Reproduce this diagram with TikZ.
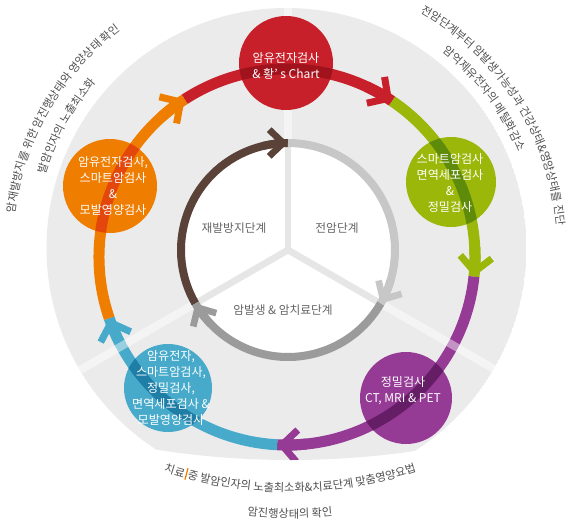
\documentclass[tikz,border=0pt]{standalone}
\usepackage{fontspec}
\setmainfont{Noto Sans CJK KR}
\usetikzlibrary{arrows.meta, decorations.text}

\definecolor{discgray}{HTML}{EBEBEB}
\definecolor{txtgray}{HTML}{4F4F4F}
\definecolor{lblgray}{HTML}{646464}
\definecolor{cRed}{HTML}{C8202B}
\definecolor{cRedD}{HTML}{A0131D}
\definecolor{cGreen}{HTML}{9BB70A}
\definecolor{cGreenD}{HTML}{5F8B0A}
\definecolor{cPurple}{HTML}{953A95}
\definecolor{cPurpleD}{HTML}{651E66}
\definecolor{cBlue}{HTML}{47AACA}
\definecolor{cBlueD}{HTML}{1F7EA6}
\definecolor{cOrange}{HTML}{EF7D00}
\definecolor{cOrangeD}{HTML}{E4470C}
\definecolor{cBrown}{HTML}{5A4238}
\definecolor{cLight}{HTML}{C7C7C7}
\definecolor{cMid}{HTML}{9B9B9B}
\definecolor{yline}{HTML}{E6E6E6}

\newcommand\outertext{\color{txtgray}\fontsize{9.6}{10}\selectfont}
\newcommand\cursorbar{\kern1pt\textcolor{cOrange}{\rule[-1.2pt]{1.1pt}{10pt}}\kern1pt}

\tikzset{
		>=stealth,
		cycle/.style={line width=0.33cm},
		cycletip/.style={-{Straight Barb[length=0.45cm, width=0.95cm, line width=0.21cm]}},
		phase/.style={line width=0.24cm},
		phasetip/.style={-{Straight Barb[length=0.42cm, width=0.8cm, line width=0.2cm]}},
		disk/.style={circle, inner sep=0pt, minimum size=2.76cm},
		disktext/.style={text=white, align=center, font=\fontsize{10.3}{13.6}\selectfont},
		phaselabel/.style={text=lblgray, font=\fontsize{10}{11}\selectfont}
	}

\begin{document}
\begin{tikzpicture}[x=0.03cm, y=0.03cm]
	\useasboundingbox (0,0) rectangle (571,525);
	\coordinate (Odisc) at (286.5,277);
	\coordinate (Oring) at (287,268);
	\coordinate (Oin) at (288,275);
	\coordinate (Obot) at (290,439);

	% gray disc, outer cycle and light stripes
	\begin{scope}
		\clip (Odisc) circle[radius=240];
		\clip (290,926) circle[radius=861];
		\fill[discgray] (Odisc) circle[radius=240];
		\foreach \c/\s/\e in {cRed/123/56, cGreen/56/-6, cPurple/-6/-93, cBlue/-93/-161, cOrange/199/123}
			\draw[cycle, \c] ([shift={(Oring)}]\s:188) arc[start angle=\s, end angle=\e, radius=188];
		\foreach \c/\e [evaluate=\e as \s using \e+9] in {cRed/56, cGreen/-6, cPurple/-93, cBlue/-161, cOrange/123}
			\draw[cycle, \c, cycletip] ([shift={(Oring)}]\s:188) arc[start angle=\s, end angle=\e, radius=188];
		\foreach \a in {90,210,330}
			\draw[line width=0.24cm, white, opacity=0.45] ([shift={(Oin)}]\a:103) -- ([shift={(Oin)}]\a:260);
	\end{scope}

	% inner cycle
	\fill[white] (Oin) circle[radius=103];
	\foreach \a in {90,210,330}
		\draw[line width=0.2cm, yline] (Oin) -- ([shift={(Oin)}]\a:104);
	\foreach \c/\s/\e in {cBrown/210/90, cLight/90/-30, cMid/-30/-150}
		\draw[phase, \c] ([shift={(Oin)}]\s:107) arc[start angle=\s, end angle=\e, radius=107];
	\foreach \c/\e [evaluate=\e as \s using \e+14] in {cBrown/90, cLight/-30, cMid/-150}
		\draw[phase, \c, phasetip] ([shift={(Oin)}]\s:107) arc[start angle=\s, end angle=\e, radius=107];

	\node[phaselabel] (relapse) at (234,297) {재발방지단계};
	\node[phaselabel] (precancer) at (337,297) {전암단계};
	\node[phaselabel] (treat) at (283,215) {암발생 \& 암치료단계};

	% test circles
	\node[disk, fill=cRed, minimum size=2.82cm] (chart) at (286,462) {};
	\node[disk, fill=cGreen, minimum size=2.7cm] (smart) at (451,343) {};
	\node[disk, fill=cPurple] (precise) at (406,127) {};
	\node[disk, fill=cBlue, minimum size=2.64cm] (combo) at (168,137) {};
	\node[disk, fill=cOrange, minimum size=2.82cm] (gene) at (110,339) {};
	\foreach \n/\c/\rad in {chart/cRedD/47, smart/cGreenD/45, precise/cPurpleD/46, combo/cBlueD/44, gene/cOrangeD/47} {
		\begin{scope}
			\clip (\n) circle[radius=\rad];
			\draw[cycle, \c] (Oring) circle[radius=188];
		\end{scope}
	}
	\node[disktext] at (286,459) {암유전자검사\\\& 황’ s Chart};
	\node[disktext] at (450,342) {스마트암검사\\면역세포검사\\\&\\정밀검사};
	\node[disktext] at (403,134) {정밀검사\\CT, MRI \& PET};
	\node[disktext] at (171,137) {암유전자,\\스마트암검사,\\정밀검사,\\면역세포검사 \&\\모발영양검사};
	\node[disktext] at (113,339) {암유전자검사,\\스마트암검사\\\&\\모발영양검사};

	% curved notes
	\path[decorate, decoration={text along path, text align=center,
		text={|\outertext|암재발방지를 위한 암진행상태와 영양상태 확인}}]
		([shift={(Odisc)}]195:274) arc[start angle=195, end angle=105, radius=274];
	\path[decorate, decoration={text along path, text align=center,
		text={|\outertext|발암인자의 노출최소화}}]
		([shift={(Odisc)}]191:252) arc[start angle=191, end angle=111, radius=252];
	\path[decorate, decoration={text along path, text align=center,
		text={|\outertext|전암단계부터 암발생가능성과 건강상태{\&}영양상태를 진단}}]
		([shift={(Odisc)}]80:271) arc[start angle=80, end angle=-15, radius=271];
	\path[decorate, decoration={text along path, text align=center,
		text={|\outertext|암억제유전자의 메틸화감소}}]
		([shift={(Odisc)}]77:251) arc[start angle=77, end angle=-3, radius=251];
	\path[decorate, decoration={text along path, text align=center,
		text={|\outertext|치료{\cursorbar}중 발암인자의 노출최소화{\&}치료단계 맞춤영양요법}}]
		([shift={(Obot)}]230:406) arc[start angle=230, end angle=310, radius=406];
	\path[decorate, decoration={text along path, text align=center,
		text={|\outertext|암진행상태의 확인}}]
		([shift={(Obot)}]250:432) arc[start angle=250, end angle=290, radius=432];
\end{tikzpicture}
\end{document}
